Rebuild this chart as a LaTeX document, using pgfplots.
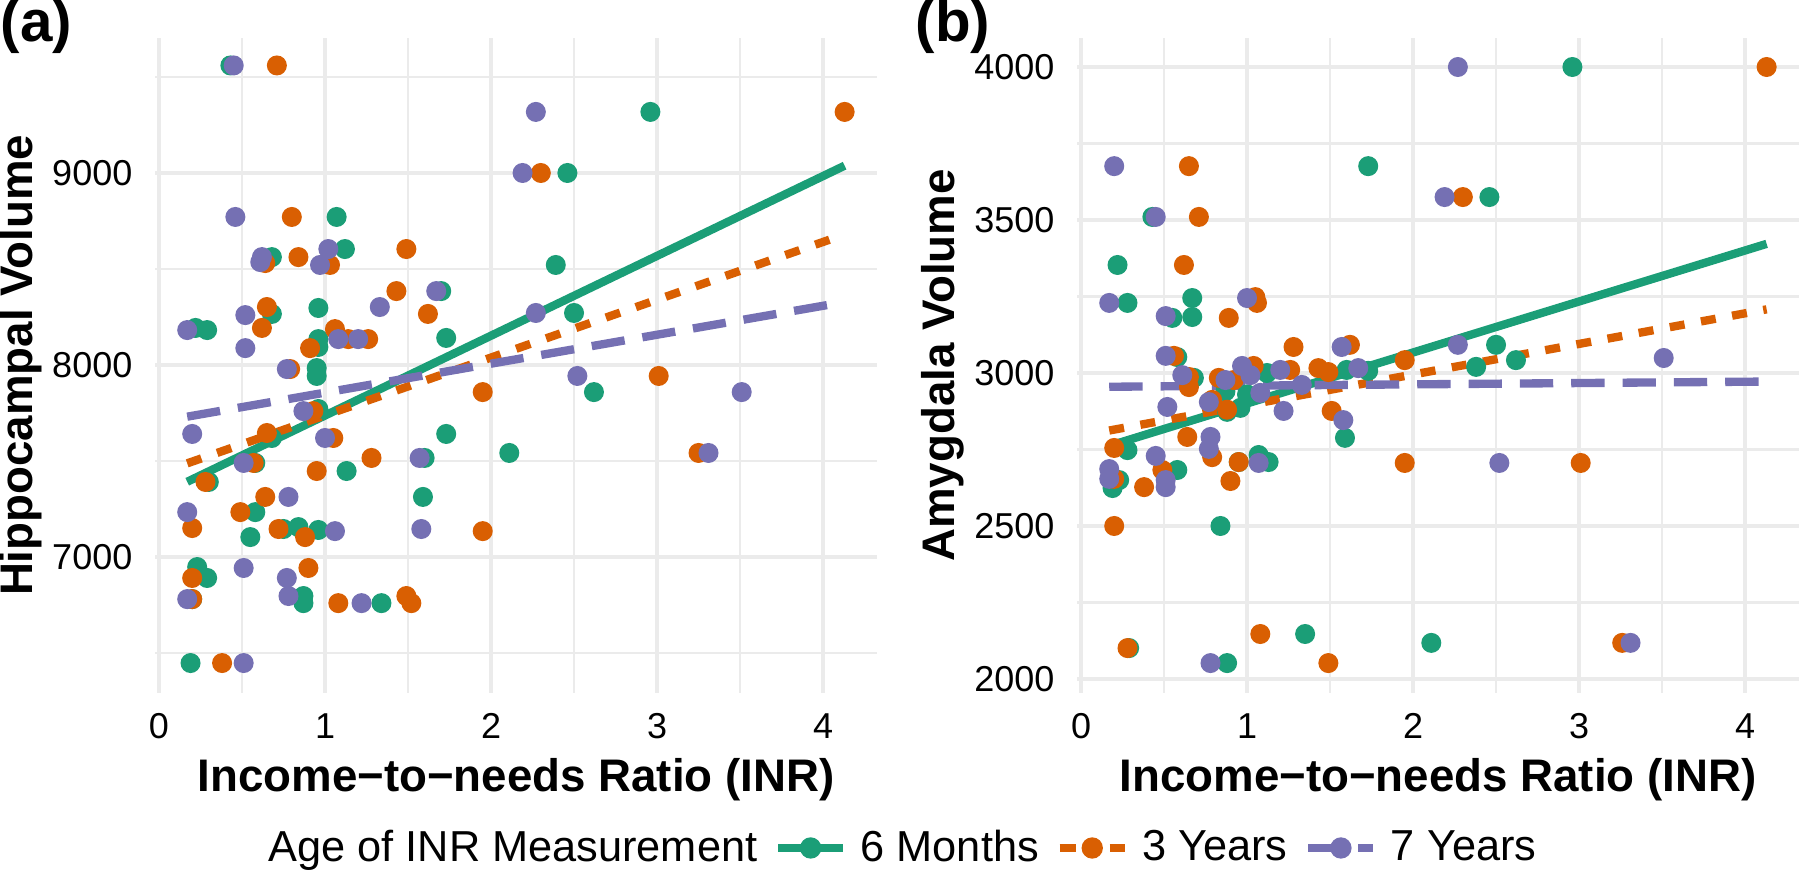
\documentclass[border=0pt]{standalone}
\usepackage{pgfplots}
\pgfplotsset{compat=1.18}
\usepackage{fontspec}
\setmainfont{Liberation Sans}
\definecolor{cG}{HTML}{1B9E77}
\definecolor{cO}{HTML}{D95F02}
\definecolor{cP}{HTML}{7570B3}
\definecolor{gridc}{HTML}{EBEBEB}

\pgfplotsset{
 panel/.style={
  scale only axis, width=216.6pt, height=196.5pt,
  axis line style={draw=none},
  major tick length=0pt, minor tick length=0pt,
  tick style={draw=none},
  grid=both,
  major grid style={gridc, line width=1.2pt},
  minor grid style={gridc, line width=0.65pt},
  xmin=-0.0241, xmax=4.325,
  xtick={0,1,2,3,4}, minor xtick={0.5,1.5,2.5,3.5},
  ticklabel style={font=\fontsize{10.8}{12}\selectfont, text=black},
  /pgf/number format/assume math mode=true,
  /pgf/number format/1000 sep={},
  xticklabel style={anchor=north, inner sep=0pt, yshift=-6pt},
  yticklabel style={anchor=east, inner sep=0pt, xshift=-6.6pt},
  label style={font=\bfseries\fontsize{13.7}{16}\selectfont},
  xlabel style={at={(axis description cs:0.5,0)}, anchor=base, yshift=-29.4pt},
  ylabel style={at={(axis description cs:-0.169,0.5)}, anchor=base},
  xlabel={Income−to−needs Ratio (INR)},
 },
 ptsG/.style={only marks, mark=*, mark size=2.8pt, color=cG, forget plot},
 ptsO/.style={only marks, mark=*, mark size=2.8pt, color=cO, forget plot},
 ptsP/.style={only marks, mark=*, mark size=2.8pt, color=cP, forget plot},
 lnG/.style={cG, line width=2.5pt, forget plot},
 lnO/.style={cO, line width=2.5pt, dash pattern=on 4.5pt off 5pt, forget plot},
 lnP/.style={cP, line width=2.5pt, dash pattern=on 10pt off 5.4pt, forget plot},
}

\begin{document}
\begin{tikzpicture}
\path[use as bounding box] (0,0) rectangle (540pt,262.2pt);

\node[anchor=base west, inner sep=0pt, font=\bfseries\fontsize{17.5}{20}\selectfont] at (0pt,249.6pt) {(a)};
\node[anchor=base west, inner sep=0pt, font=\bfseries\fontsize{17.5}{20}\selectfont] at (274.5pt,249.6pt) {(b)};

% ---------------- panel (a)
\begin{axis}[panel, at={(46.5pt,54.3pt)}, anchor=south west,
  ymin=6292, ymax=9703,
  ytick={7000,8000,9000}, minor ytick={6500,7500,8500,9500},
  ylabel={Hippocampal Volume},
  legend columns=4,
  legend style={draw=none, fill=none, font=\fontsize{13}{15}\selectfont,
    at={(axis description cs:1.0305,-0.2366)}, anchor=center,
    /tikz/every odd column/.append style={column sep=2pt},
    /tikz/every even column/.append style={column sep=3pt}},
]
\addlegendimage{empty legend}
\addlegendimage{legend image code/.code={\draw[cG, line width=2.5pt] (0pt,0pt) -- (19.5pt,0pt); \fill[cG] (9.75pt,0pt) circle (3pt);}}
\addlegendimage{legend image code/.code={\draw[cO, line width=2.5pt, dash pattern=on 5pt off 2.5pt] (0pt,0pt) -- (19.5pt,0pt); \fill[cO] (9.75pt,0pt) circle (3pt);}}
\addlegendimage{legend image code/.code={\draw[cP, line width=2.5pt, dash pattern=on 11pt off 4pt] (0pt,0pt) -- (19.5pt,0pt); \fill[cP] (9.75pt,0pt) circle (3pt);}}
\legend{Age of INR Measurement, 6 Months, 3 Years, 7 Years}

\addplot[ptsG] coordinates {
(0.43,9560) (1.07,8771) (1.12,8604) (0.68,8562) (1.70,8385) (0.68,8266)
(0.96,8297) (0.22,8193) (0.29,8182) (1.73,8141) (0.96,8094) (0.96,8135)
(2.96,9318) (2.46,9000) (2.39,8521) (2.50,8271) (0.95,7984) (0.95,7943)
(2.62,7859) (0.96,7771) (0.68,7620) (1.73,7641) (2.11,7542) (1.60,7516)
(0.58,7490) (0.30,7391) (1.13,7448) (1.59,7313) (0.58,7234) (0.55,7104)
(0.75,7146) (0.84,7156) (0.96,7141) (0.23,6948) (0.29,6891) (0.20,6781)
(0.87,6797) (0.87,6760) (1.34,6760) (0.19,6448)
};
\addplot[ptsO] coordinates {
(0.71,9560) (0.80,8771) (1.49,8604) (0.64,8531) (0.84,8562) (1.03,8521)
(1.43,8385) (0.65,8302) (1.62,8266) (0.62,8193) (1.06,8187) (1.14,8135)
(1.26,8135) (0.91,8088) (4.13,9318) (2.30,9000) (0.79,7979) (0.93,7760)
(1.95,7859) (3.01,7943) (0.65,7646) (1.05,7620) (3.25,7542) (1.28,7516)
(0.57,7490) (0.28,7391) (0.95,7448) (0.64,7313) (0.49,7234) (0.20,7151)
(0.72,7146) (0.88,7104) (1.95,7135) (0.20,6891) (0.90,6943) (0.20,6781)
(1.08,6760) (1.49,6797) (1.52,6760) (0.38,6448)
};
\addplot[ptsP] coordinates {
(0.45,9560) (0.46,8771) (1.02,8604) (0.62,8562) (0.61,8536) (0.97,8521)
(1.67,8385) (0.52,8260) (1.33,8302) (0.17,8182) (1.08,8135) (1.20,8135)
(0.52,8088) (2.27,9318) (2.19,9000) (2.27,8271) (0.77,7979) (0.87,7760)
(2.52,7943) (3.51,7859) (0.20,7641) (1.00,7620) (3.31,7542) (1.57,7516)
(0.51,7490) (0.78,7313) (0.17,7234) (1.06,7135) (1.58,7146) (0.51,6943)
(0.77,6891) (0.17,6781) (0.78,6797) (1.22,6760) (0.51,6448)
};
\addplot[lnG] coordinates {(0.17,7392) (4.13,9038)};
\addplot[lnO] coordinates {(0.17,7488) (4.13,8680)};
\addplot[lnP] coordinates {(0.17,7731) (4.13,8328)};
\end{axis}

% ---------------- panel (b)
\begin{axis}[panel, at={(323.1pt,54.3pt)}, anchor=south west,
  ymin=1954.2, ymax=4094.8,
  ytick={2000,2500,3000,3500,4000}, minor ytick={2250,2750,3250,3750},
  ylabel={Amygdala Volume},
]
\addplot[ptsG] coordinates {
(0.43,3510) (1.73,3676) (0.22,3353) (0.28,3229) (0.67,3245) (0.67,3183)
(0.55,3180) (2.96,4000) (2.46,3575) (2.50,3092) (2.38,3020) (2.62,3042)
(1.73,3007) (1.59,2788) (1.35,2147) (2.11,2118) (0.58,3052) (0.68,2984)
(1.12,3000) (0.88,2873) (0.96,2886) (0.28,2748) (0.58,2683) (0.23,2650)
(0.19,2624) (0.95,2709) (1.07,2732) (1.13,2709) (0.84,2500) (0.29,2101)
(0.88,2052) (1.00,2930) (0.87,2940) (1.60,3010)
};
\addplot[ptsO] coordinates {
(0.65,3676) (0.71,3510) (0.62,3353) (0.89,3180) (1.05,3248) (1.06,3229)
(1.28,3085) (1.62,3092) (4.13,4000) (2.30,3575) (1.95,3042) (1.43,3016)
(1.49,3003) (1.51,2876) (1.95,2706) (3.01,2706) (1.49,2052) (3.26,2118)
(0.56,3056) (0.65,2987) (0.65,2954) (0.83,2984) (0.92,2977) (1.04,3023)
(1.26,3010) (0.79,2912) (0.88,2880) (0.20,2755) (0.64,2791) (0.79,2725)
(0.49,2683) (0.38,2627) (0.20,2654) (0.95,2709) (0.90,2647) (0.20,2500)
(0.28,2101) (1.08,2147)
};
\addplot[ptsP] coordinates {
(0.20,3676) (0.45,3510) (0.17,3229) (0.51,3186) (1.00,3245) (1.57,3085)
(2.27,4000) (2.19,3575) (2.27,3092) (3.51,3049) (1.67,3016) (1.58,2846)
(2.52,2706) (3.31,2118) (0.51,3056) (0.61,2993) (0.87,2977) (0.97,3023)
(1.02,2993) (1.20,3010) (1.33,2961) (1.08,2935) (0.52,2889) (0.77,2905)
(1.22,2876) (0.78,2791) (0.77,2752) (0.45,2729) (0.51,2650) (0.51,2627)
(0.17,2686) (0.17,2654) (1.07,2706) (0.78,2052)
};
\addplot[lnG] coordinates {(0.17,2762) (4.13,3422)};
\addplot[lnO] coordinates {(0.17,2812) (4.13,3208)};
\addplot[lnP] coordinates {(0.17,2955) (4.13,2972)};
\end{axis}
\end{tikzpicture}
\end{document}
